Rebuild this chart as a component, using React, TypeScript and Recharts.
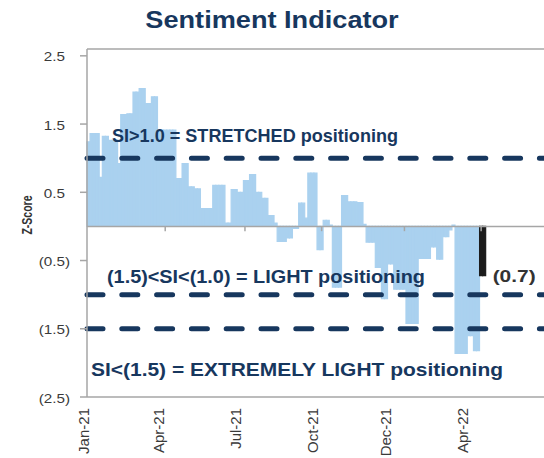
import React from "react";
import { BarChart, Bar, XAxis, YAxis, ReferenceLine, Cell, LabelList } from "recharts";

// half-week readings of the sentiment z-score, Jan-21 .. Apr-22
const siHistory = [
  1.24, 1.36, 1.36, 1.36, 0.72, 1.32, 1.32, 1.26, 1.26, 1.26,
  0.92, 1.64, 1.64, 1.65, 1.65, 1.97, 1.97, 2.02, 2.02, 1.8,
  1.8, 1.9, 1.9, 1.41, 1.41, 1.41, 1.41, 1.41, 1.41, 0.7,
  0.7, 0.92, 0.92, 0.58, 0.58, 0.55, 0.55, 0.26, 0.26, 0.26,
  0.26, 0.6, 0.6, 0.6, 0.6, 0.05, 0.05, 0.54, 0.54, 0.5,
  0.5, 0.67, 0.67, 0.76, 0.76, 0.5, 0.5, 0.41, 0.41, 0.16,
  0.16, 0.05, -0.22, -0.22, -0.22, -0.17, -0.17, -0.03, -0.03, 0.34,
  0.34, 0.12, 0.78, 0.78, 0.78, -0.34, -0.34, 0.09, 0.09, 0.02,
  -0.89, -0.89, -0.89, 0.45, 0.45, 0.36, 0.36, 0.36, 0.35, 0.35,
  0.03, -0.23, -0.23, -0.23, -0.6, -0.6, -1.06, -1.06, -0.55, -0.55,
  -0.92, -0.92, -0.92, -0.92, -1.42, -1.42, -1.42, -1.42, -0.47, -0.47,
  -0.47, -0.47, -0.3, -0.3, -0.48, -0.48, -0.15, -0.15, -0.05, 0.02,
  -1.86, -1.86, -1.86, -1.86, -1.6, -1.6, -1.82, -1.82,
];
const siLatest = [-0.72, -0.72];

const monthLabels = ["Jan-21", "Apr-21", "Jul-21", "Oct-21", "Dec-21", "Apr-22"];
const monthLabelSlots = [0, 23, 48, 73, 97, 122];
const zeroTickSlots = [25, 51, 76, 103, 128];
const yTicks = [2.5, 1.5, 0.5, -0.5, -1.5, -2.5];
const thresholds = [1.0, -1.0, -1.5];
const thresholdLabels = [
  "SI>1.0 = STRETCHED positioning",
  "(1.5)<SI<(1.0) = LIGHT positioning",
  "SI<(1.5) = EXTREMELY LIGHT positioning",
];

const TOTAL_SLOTS = 149;
const allValues = [...siHistory, ...siLatest];
const data = Array.from({ length: TOTAL_SLOTS }, (_, i) => ({
  slot: i,
  si: i < allValues.length ? allValues[i] : null,
}));

const FONT = "'Liberation Sans', Arial, Helvetica, sans-serif";
const NAVY = "#17375E";
const BLUE = "#AAD1EF";
const BLACK = "#1c1c1c";
const GREY = "#A6A6A6";

const fmt = (v: number) => (v < 0 ? `(${Math.abs(v).toFixed(1)})` : v.toFixed(1));

const YTick = ({ x, y, payload }: any) => {
  const v = payload.value as number;
  return (
    <g transform={`translate(${x},${y}) scale(1.22,1)`}>
      <text textAnchor="end" dy="0.45em" fontSize={12.5} fill="#3a3a3a" fontFamily={FONT}>
        {fmt(v)}
        {v >= 0 && <tspan fillOpacity={0}>)</tspan>}
      </text>
    </g>
  );
};

const MonthTick = ({ x, y, payload }: any) => {
  const idx = monthLabelSlots.indexOf(payload.value);
  if (idx < 0) return null;
  const nudge = idx === 0 ? -5 : 0;
  return (
    <g transform={`translate(${x + nudge},${y + 11})`}>
      <text transform="rotate(-90)" textAnchor="end" dy="0.36em" fontSize={15} fill="#3a3a3a" fontFamily={FONT}>
        {monthLabels[idx]}
      </text>
    </g>
  );
};

// offsets of each band note from the left of its line
const noteOffsets = [
  { dx: 25, dy: -16.5, len: 286 },
  { dx: 20, dy: -12, len: 318 },
  { dx: 4, dy: 47, len: 412 },
];

const bandNote = (i: number) => (props: any) => {
  const vb = props.viewBox || {};
  const o = noteOffsets[i];
  return (
    <text
      x={vb.x + o.dx}
      y={vb.y + o.dy}
      fontSize={18}
      fontWeight="bold"
      fill={NAVY}
      fontFamily={FONT}
      textLength={o.len}
      lengthAdjust="spacingAndGlyphs"
    >
      {thresholdLabels[i]}
    </text>
  );
};

const LatestLabel = (props: any) => {
  const { x, y, width, height, index, value } = props;
  if (index !== allValues.length - 1 || value == null) return null;
  const bottom = Math.max(y, y + height);
  return (
    <text
      x={x + width + 7}
      y={bottom + 6}
      fontSize={17}
      fontWeight="bold"
      fill="#333333"
      fontFamily={FONT}
      textLength={43}
      lengthAdjust="spacingAndGlyphs"
    >
      {fmt(value)}
    </text>
  );
};

const ZLabel = (props: any) => {
  const vb = props.viewBox || {};
  const cy = vb.y + vb.height / 2 - 8;
  return (
    <text
      transform={`translate(${vb.x + 32},${cy}) rotate(-90) scale(1,1.35)`}
      textAnchor="middle"
      fontSize={10.5}
      fontWeight="bold"
      fill="#333333"
      fontFamily={FONT}
    >
      Z-Score
    </text>
  );
};

export default function App() {
  return (
    <div style={{ position: "absolute", left: 0, top: 0, width: 544, height: 458, background: "#fff" }}>
      <div
        style={{
          position: "absolute",
          top: 9,
          left: 0,
          width: 544,
          textAlign: "center",
          fontFamily: FONT,
          fontWeight: "bold",
          fontSize: 23,
          lineHeight: "23px",
          color: NAVY,
          transform: "scaleX(1.18)",
        }}
      >
        Sentiment Indicator
      </div>
      <BarChart
        width={544}
        height={458}
        data={data}
        margin={{ top: 49, right: 0, bottom: 0, left: 0 }}
        barCategoryGap={0}
        barGap={0}
      >
        <XAxis
          dataKey="slot"
          type="category"
          height={61}
          ticks={monthLabelSlots}
          interval={0}
          tick={<MonthTick />}
          tickLine={false}
          tickSize={0}
          tickMargin={0}
          axisLine={{ stroke: GREY, strokeWidth: 1.5 }}
        />
        <YAxis
          width={87}
          domain={[-2.5, 2.6]}
          ticks={yTicks}
          interval={0}
          tick={<YTick />}
          tickSize={7}
          tickMargin={10}
          tickLine={{ stroke: GREY, strokeWidth: 1.5 }}
          axisLine={{ stroke: GREY, strokeWidth: 1.5 }}
          label={<ZLabel />}
        />
        <Bar dataKey="si" isAnimationActive={false}>
          {data.map((d) => {
            const c = d.slot >= siHistory.length ? BLACK : BLUE;
            return <Cell key={d.slot} fill={c} stroke={c} strokeWidth={1.2} />;
          })}
          <LabelList dataKey="si" content={<LatestLabel />} />
        </Bar>
        <ReferenceLine y={2.6} stroke={GREY} strokeWidth={1.5} />
        <ReferenceLine y={0} stroke={GREY} strokeWidth={1.5} />
        {zeroTickSlots.map((s) => (
          <ReferenceLine
            key={s}
            segment={[
              { x: s, y: 0 },
              { x: s, y: -0.07 },
            ]}
            stroke={GREY}
            strokeWidth={1.5}
          />
        ))}
        {thresholds.map((t, i) => (
          <ReferenceLine
            key={t}
            y={t}
            stroke={NAVY}
            strokeWidth={5}
            strokeDasharray="16 18.8"
            strokeLinecap="round"
            label={bandNote(i)}
          />
        ))}
      </BarChart>
    </div>
  );
}
